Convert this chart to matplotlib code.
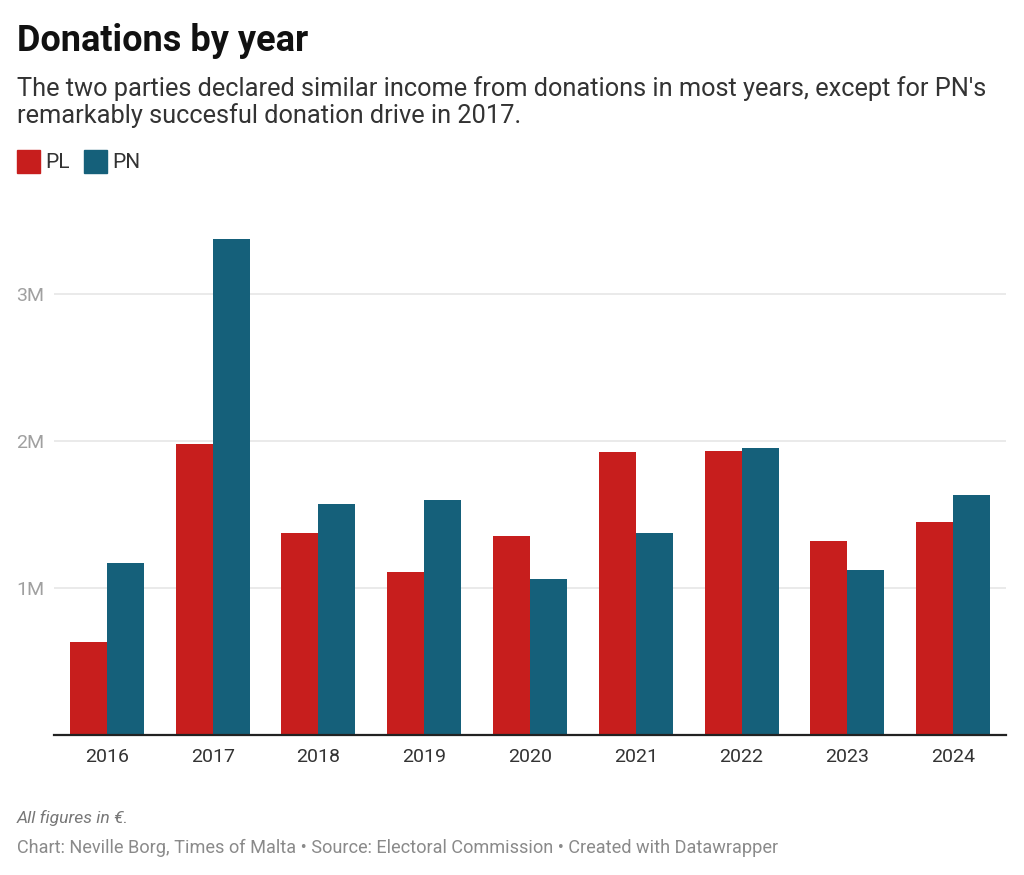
import numpy as np
from matplotlib import pyplot as plt
from matplotlib.patches import Rectangle
from matplotlib.ticker import FuncFormatter

plt.rcParams['font.family'] = ['Roboto', 'DejaVu Sans']

# data (millions of euro)
years = ['2016', '2017', '2018', '2019', '2020', '2021', '2022', '2023', '2024']
pl_values = [0.63, 1.98, 1.37, 1.11, 1.35, 1.92, 1.93, 1.32, 1.45]
pn_values = [1.17, 3.37, 1.57, 1.60, 1.06, 1.37, 1.95, 1.12, 1.63]
y_ticks = [1, 2, 3]

# colors
pl_color = '#c71e1d'
pn_color = '#15607a'

fig = plt.figure(figsize=(10.24, 8.75), dpi=100)
ax = fig.add_axes([0.0527, 0.16, 0.9297, 0.5886])

x = np.arange(len(years))
w = 0.35
ax.bar(x - w / 2, pl_values, width=w, color=pl_color, zorder=3)
ax.bar(x + w / 2, pn_values, width=w, color=pn_color, zorder=3)

ax.set_xlim(-0.5, len(years) - 0.5)
ax.set_ylim(0, 3.5)
ax.set_xticks(x)
ax.set_xticklabels(years)
ax.set_yticks(y_ticks)
ax.yaxis.set_major_formatter(FuncFormatter(lambda v, p: f'{int(v)}M'))

# grid + spines
ax.grid(axis='y', color='#e6e6e6', linewidth=1.2, zorder=0)
for s in ['top', 'right', 'left']:
    ax.spines[s].set_visible(False)
ax.spines['bottom'].set_color('#222222')
ax.spines['bottom'].set_linewidth(1.6)
ax.spines['bottom'].set_zorder(4)
ax.tick_params(axis='x', length=0, pad=9, labelsize=14, labelcolor='#333333')
ax.tick_params(axis='y', length=0, pad=7, labelsize=14, labelcolor='#a0a0a0')

# titles
fig.text(0.0166, 1 - 51 / 875, 'Donations by year', fontsize=26, fontweight='bold',
         color='#111111', va='baseline')
fig.text(0.0166, 1 - 96 / 875,
         "The two parties declared similar income from donations in most years, except for PN's",
         fontsize=18.3, color='#333333', va='baseline')
fig.text(0.0166, 1 - 123 / 875, 'remarkably succesful donation drive in 2017.',
         fontsize=18.3, color='#333333', va='baseline')

# legend
for lab, col, lx in [('PL', pl_color, 17), ('PN', pn_color, 84)]:
    fig.patches.append(Rectangle((lx / 1024, 1 - 173 / 875), 23 / 1024, 23 / 875,
                                 transform=fig.transFigure, color=col))
    fig.text((lx + 28) / 1024, 1 - 168 / 875, lab, fontsize=15, color='#333333',
             va='baseline')

# footer
fig.text(0.0166, 1 - 823 / 875, 'All figures in €.', fontsize=12.6, style='italic',
         color='#777777', va='baseline')
fig.text(0.0166, 1 - 853 / 875,
         'Chart: Neville Borg, Times of Malta • Source: Electoral Commission • Created with Datawrapper',
         fontsize=13.1, color='#8a8a8a', va='baseline')

fig.savefig('out.png', dpi=100, facecolor='white')
